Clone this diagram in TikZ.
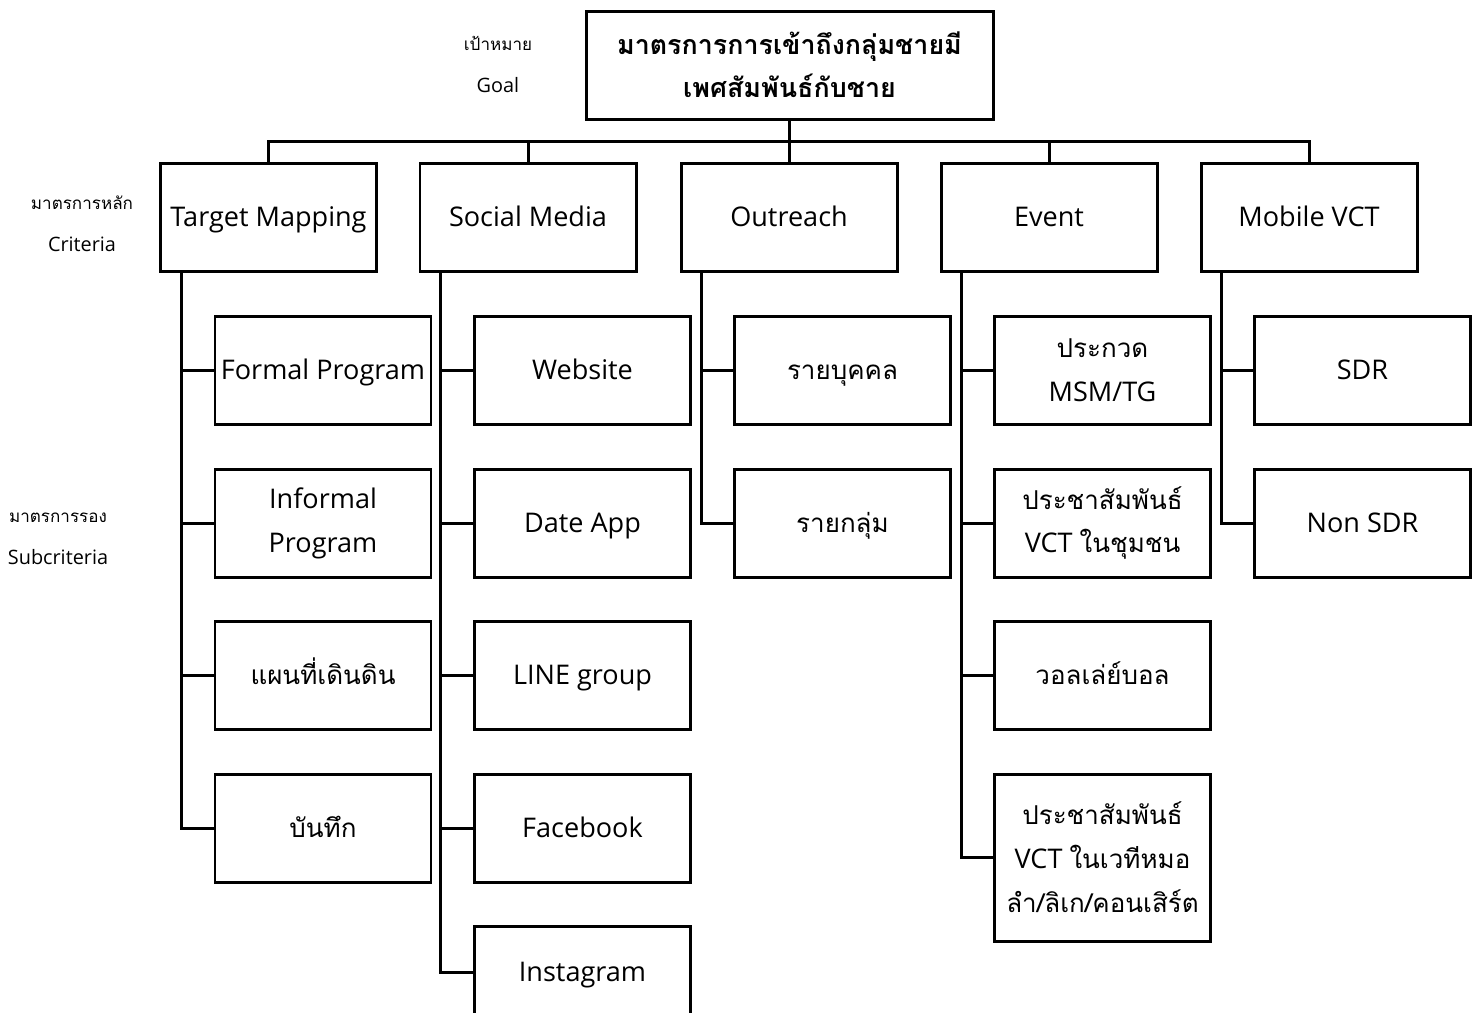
\documentclass[tikz,border=0pt]{standalone}
\usepackage{fontspec}
\setmainfont{Open Sans}
\newfontfamily\thai[Script=Thai,Scale=0.96]{Loma}
\begin{document}
\begin{tikzpicture}[font=\fontsize{7.7}{12.5}\selectfont,
  box/.style={draw,line width=0.85pt,minimum width=2.16cm,minimum height=1.08cm,
    inner sep=0pt,align=center},
  one/.style={text height=5.5pt,text depth=0pt},
  lab/.style={font=\fontsize{5.65}{8}\selectfont},
  labth/.style={font=\fontsize{5.05}{8}\selectfont\thai},
  link/.style={line width=0.85pt}]

\useasboundingbox (0,0) rectangle (14.81,-10.12);

% Goal
\node[box,minimum width=4.07cm,font=\fontsize{7.95}{12.3}\selectfont\bfseries] (goal) at (7.895,-0.65)
{{\thai มาตรการการเข้าถึงกลุ่มชายมี}\\{\thai เพศสัมพันธ์กับชาย}};

% Level labels
\node[labth] (goalth) at (4.98,-0.43) {เป้าหมาย};
\node[lab] (goalen) at (4.98,-0.85) {Goal};
\node[labth] (critth) at (0.82,-2.03) {มาตรการหลัก};
\node[lab] (criten) at (0.82,-2.44) {Criteria};
\node[labth] (subth) at (0.58,-5.18) {มาตรการรอง};
\node[lab] (suben) at (0.58,-5.57) {Subcriteria};

%--------------------------------------------------
% Criteria
%--------------------------------------------------
\node[box,one] (tm) at (2.685,-2.17) {Target Mapping};
\node[box,one] (sm) at (5.28,-2.17) {Social Media};
\node[box,one] (or) at (7.89,-2.17) {Outreach};
\node[box,one] (ev) at (10.49,-2.17) {Event};
\node[box,one] (mv) at (13.09,-2.17) {Mobile VCT};

\coordinate (bus) at (7.895,-1.41);
\draw[link] (goal.south) -- (bus);
\foreach \n in {tm,sm,or,ev,mv}
  \draw[link] (bus) -| (\n.north);

%--------------------------------------------------
% Target Mapping
%--------------------------------------------------
\node[box,one] (fp) at (3.23,-3.70) {Formal Program};
\node[box] (ip) at (3.23,-5.23) {Informal\\Program};
\node[box,one] (mp) at (3.23,-6.75) {\thai แผนที่เดินดิน};
\node[box,one] (nb) at (3.23,-8.28) {\thai บันทึก};

\foreach \s in {fp,ip,mp,nb}
  \draw[link] ([xshift=0.22cm]tm.south west) |- (\s.west);

%--------------------------------------------------
% Social Media
%--------------------------------------------------
\node[box,one] (web) at (5.825,-3.70) {Website};
\node[box,one] (date) at (5.825,-5.23) {Date App};
\node[box,one] (line) at (5.825,-6.75) {LINE group};
\node[box,one] (fb) at (5.825,-8.28) {Facebook};
\node[box,one,minimum height=0.92cm] (ig) at (5.825,-9.72) {Instagram};

\foreach \s in {web,date,line,fb,ig}
  \draw[link] ([xshift=0.22cm]sm.south west) |- (\s.west);

%--------------------------------------------------
% Outreach
%--------------------------------------------------
\node[box,one] (ind) at (8.425,-3.70) {\thai รายบุคคล};
\node[box,one] (grp) at (8.425,-5.23) {\thai รายกลุ่ม};

\foreach \s in {ind,grp}
  \draw[link] ([xshift=0.22cm]or.south west) |- (\s.west);

%--------------------------------------------------
% Event
%--------------------------------------------------
\node[box] (cont) at (11.025,-3.70) {{\thai ประกวด}\\MSM/TG};
\node[box] (comm) at (11.025,-5.23) {{\thai ประชาสัมพันธ์}\\VCT {\thai ในชุมชน}};
\node[box,one] (vb) at (11.025,-6.75) {\thai วอลเล่ย์บอล};
\node[box,minimum height=1.67cm] (stage) at (11.025,-8.575)
{{\thai ประชาสัมพันธ์}\\VCT {\thai ในเวทีหมอ}\\{\thai ลำ/ลิเก/คอนเสิร์ต}};

\foreach \s in {cont,comm,vb,stage}
  \draw[link] ([xshift=0.22cm]ev.south west) |- (\s.west);

%--------------------------------------------------
% Mobile VCT
%--------------------------------------------------
\node[box,one] (sdr) at (13.625,-3.70) {SDR};
\node[box,one] (nsdr) at (13.625,-5.23) {Non SDR};

\foreach \s in {sdr,nsdr}
  \draw[link] ([xshift=0.22cm]mv.south west) |- (\s.west);

\end{tikzpicture}
\end{document}
